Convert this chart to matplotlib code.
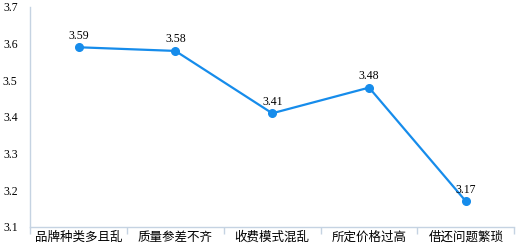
import matplotlib
matplotlib.use("Agg")
import matplotlib.pyplot as plt
import numpy as np

# Données
categories = ["品牌种类多且乱", "质量参差不齐", "收费模式混乱", "所定价格过高", "借还问题繁琐"]
scores = [3.59, 3.58, 3.41, 3.48, 3.17]
yticks = [3.1, 3.2, 3.3, 3.4, 3.5, 3.6, 3.7]

line_color = "#168ceb"
axis_color = "#c5d3e2"

fig = plt.figure(figsize=(5.19, 2.47), dpi=100)
ax = fig.add_axes([0.058, 0.081, 0.933, 0.891])

x = np.arange(len(categories))
ax.plot(x, scores, color=line_color, lw=1.6, marker="o", ms=5.5, zorder=3)
for xi, v in zip(x, scores):
    ax.annotate(f"{v:.2f}", (xi, v), xytext=(0, 4), textcoords="offset points",
                ha="center", va="bottom", fontsize=8.5, family="Liberation Serif")

ax.set_xlim(-0.5, len(categories) - 0.5)
ax.set_ylim(3.1, 3.7)
ax.set_yticks(yticks)
ax.set_yticklabels([f"{t:.1f}" for t in yticks], family="Liberation Serif", fontsize=8.5)
ax.tick_params(axis="y", length=0, pad=9)

ax.set_xticks(x)
ax.set_xticklabels(categories, family=["Noto Sans CJK SC", "DejaVu Sans"], fontsize=9)
ax.tick_params(axis="x", which="major", length=0, pad=3)
ax.set_xticks(np.arange(-0.5, len(categories)), minor=True)
ax.tick_params(axis="x", which="minor", length=5, color=axis_color, width=1)

for s in ["top", "right"]:
    ax.spines[s].set_visible(False)
for s in ["left", "bottom"]:
    ax.spines[s].set_color(axis_color)
    ax.spines[s].set_linewidth(1)

fig.savefig("out.png", dpi=100)
